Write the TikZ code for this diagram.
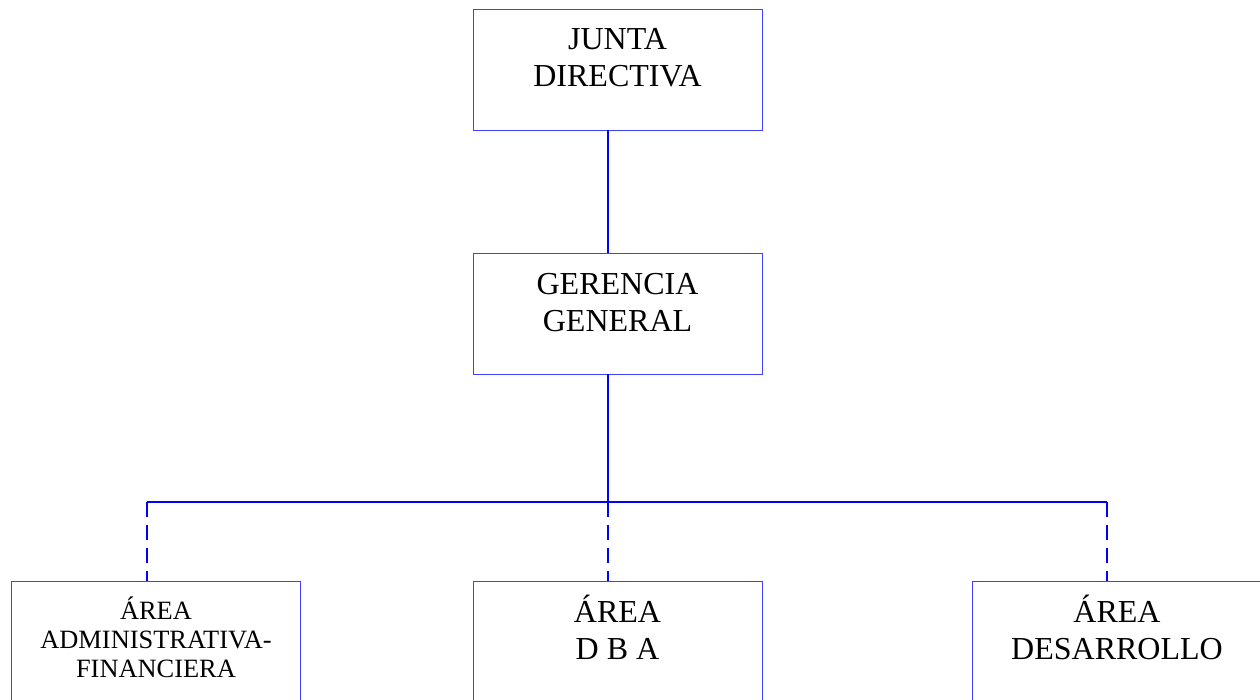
\documentclass[tikz,border=0pt]{standalone}
\usepackage{fontspec}
\setmainfont{Liberation Serif}
\definecolor{boxblue}{RGB}{64,64,255}
\definecolor{lineblue}{RGB}{0,0,255}
\tikzset{
  orgbox/.style={draw=boxblue, line width=1pt, minimum width=289pt, minimum height=121pt, inner sep=0pt, anchor=north west},
  orgtext/.style={align=center, inner sep=0pt, anchor=base, font=\fontsize{32}{37}\selectfont},
  smalltext/.style={align=center, inner sep=0pt, anchor=base, font=\fontsize{26.4}{29}\selectfont},
  link/.style={draw=lineblue, line width=2pt},
  dlink/.style={draw=lineblue, line width=2pt, dash pattern=on 15pt off 8pt}
}
\begin{document}
\begin{tikzpicture}[x=1pt,y=-1pt]
\useasboundingbox (0,0) rectangle (1260,700);
\begin{scope}
\clip (0,0) rectangle (1260,700);
\node[orgbox] (junta) at (473,9) {};
\node[orgbox] (gerencia) at (473,253) {};
\node[orgbox] (adm) at (11,581) {};
\node[orgbox] (dba) at (473,581) {};
\node[orgbox] (des) at (972,581) {};
\end{scope}
\node[orgtext] (tjunta) at (617.5,87) {JUNTA\\DIRECTIVA};
\node[orgtext] (tger) at (617.5,331) {GERENCIA\\GENERAL};
\node[smalltext] (tadm) at (156,677) {ÁREA\\ADMINISTRATIVA-\\FINANCIERA};
\node[orgtext] (tdba) at (617.5,659) {ÁREA\\D B A};
\node[orgtext] (tdes) at (1117,659) {ÁREA\\DESARROLLO};
\coordinate (jb) at (608,130);
\coordinate (gt) at (608,253);
\coordinate (gb) at (608,374);
\coordinate (mid) at (608,502);
\coordinate (left) at (147,502);
\coordinate (right) at (1107,502);
\coordinate (admt) at (147,581);
\coordinate (dbat) at (608,581);
\coordinate (dest) at (1107,581);
\draw[link] (jb) -- (gt);
\draw[link] (gb) -- (mid);
\draw[link] (left) -- (right);
\draw[dlink] (left) -- (admt);
\draw[dlink] (mid) -- (dbat);
\draw[dlink] (right) -- (dest);
\end{tikzpicture}
\end{document}
